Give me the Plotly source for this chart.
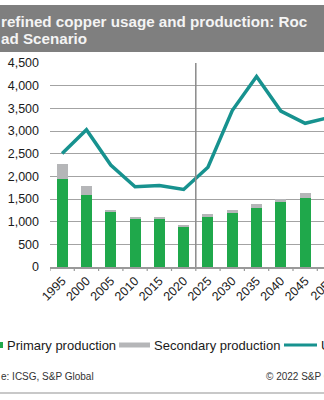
import plotly.graph_objects as go

years = ['1995', '2000', '2005', '2010', '2015', '2020', '2025', '2030', '2035', '2040', '2045', '2050']
primary = [1940, 1580, 1205, 1050, 1060, 880, 1110, 1200, 1310, 1440, 1515, 1560]
secondary = [330, 210, 55, 45, 50, 45, 70, 60, 80, 60, 110, 120]
usage = [2505, 3030, 2250, 1770, 1800, 1710, 2200, 3450, 4200, 3440, 3170, 3300]
y_ticks = [0, 500, 1000, 1500, 2000, 2500, 3000, 3500, 4000, 4500]

GREEN = '#1fa84b'
GRAY = '#b5b6b8'
TEAL = '#17928f'
FONT = 'Liberation Sans, Arial, sans-serif'

W, H = 324, 400
L, R, T, B = 50, 0, 63, 133
PW, PH = W - L - R, H - T - B
CAT = 24.3  # pixel width of one category

def px(x):
    return (x - L) / PW

def py(y):
    return (H - B - y) / PH

fig = go.Figure()
fig.add_trace(go.Bar(x=list(range(len(years))), y=primary, marker_color=GREEN,
                     marker_line_width=0, name='Primary production', showlegend=False))
fig.add_trace(go.Bar(x=list(range(len(years))), y=secondary, marker_color=GRAY,
                     marker_line_width=0, name='Secondary production', showlegend=False))
fig.add_trace(go.Scatter(x=list(range(len(years))), y=usage, mode='lines',
                         line=dict(color=TEAL, width=3.5), name='Usage', showlegend=False))

n_vis = PW / CAT
fig.update_layout(
    width=W, height=H,
    margin=dict(l=L, r=R, t=T, b=B, pad=0),
    paper_bgcolor='white', plot_bgcolor='white',
    barmode='stack', bargap=0.55,
    font=dict(family=FONT, color='#1a1a1a', size=12.5),
    xaxis=dict(
        type='linear', range=[-0.5, -0.5 + n_vis],
        tickmode='array', tickvals=list(range(len(years))), ticktext=years,
        tickangle=-45, showgrid=False, zeroline=False,
        showline=True, linecolor='#9a9a9a', linewidth=1.5,
        ticks='', tickfont=dict(size=12.5, color='#1a1a1a'),
    ),
    yaxis=dict(
        range=[0, 4500], tickvals=y_ticks, tickformat=',d',
        showgrid=True, gridcolor='#a3a3a3', gridwidth=1.3,
        zeroline=False, showline=False, ticks='',
        ticklabelstandoff=10,
        tickfont=dict(size=12.5, color='#1a1a1a'),
    ),
)

shapes = []
# x axis tick marks at category boundaries
for i in range(len(years) + 1):
    xb = i - 0.5
    shapes.append(dict(type='line', xref='x', yref='paper', x0=xb, x1=xb,
                       y0=0, y1=py(H - B + 4), line=dict(color='#9a9a9a', width=1.2)))
# forecast divider between 2020 and 2025
shapes.append(dict(type='line', xref='x', yref='paper', x0=5.5, x1=5.5, y0=0, y1=1,
                   line=dict(color='#8a8a8a', width=1.5)))
# title bar
shapes.append(dict(type='rect', xref='paper', yref='paper', x0=px(-5), x1=px(330),
                   y0=py(52), y1=py(5), fillcolor='#7f7f7f', line=dict(width=0), layer='above'))
# legend symbols
shapes.append(dict(type='rect', xref='paper', yref='paper', x0=px(-4), x1=px(3),
                   y0=py(348), y1=py(342), fillcolor=GREEN, line=dict(width=0)))
shapes.append(dict(type='rect', xref='paper', yref='paper', x0=px(119), x1=px(150),
                   y0=py(347.5), y1=py(342.5), fillcolor=GRAY, line=dict(width=0)))
shapes.append(dict(type='line', xref='paper', yref='paper', x0=px(284), x1=px(317),
                   y0=py(345), y1=py(345), line=dict(color=TEAL, width=3)))
# bottom rule
shapes.append(dict(type='line', xref='paper', yref='paper', x0=px(-5), x1=px(330),
                   y0=py(393), y1=py(393), line=dict(color='#c8c8c8', width=2)))
fig.update_layout(shapes=shapes)

def ann(text, x, y, size, color='#1a1a1a', bold=False, xanchor='left', yanchor='middle', angle=0):
    if bold:
        text = '<b>' + text + '</b>'
    return dict(text=text, xref='paper', yref='paper', x=px(x), y=py(y),
                xanchor=xanchor, yanchor=yanchor, showarrow=False, textangle=angle,
                font=dict(family=FONT, size=size, color=color), borderpad=0)

annotations = [
    ann('refined copper usage and production: Roc', 0, 21, 15.2, '#f4f4f4', True),
    ann('ad Scenario', 0, 38, 15.2, '#f4f4f4', True),
    ann('Primary production', 6, 345, 13),
    ann('Secondary production', 153, 345, 13),
    ann('Usage', 320, 345, 13),
    ann('e: ICSG, S&P Global', 0, 376, 10, '#333333'),
    ann('© 2022 S&P Global', 265, 376, 10, '#333333'),
    ann(years[-1], 307, 272, 12.5, '#1a1a1a', False, 'left', 'top', -45),
]
fig.update_layout(annotations=annotations)

fig.write_html('out.html')
